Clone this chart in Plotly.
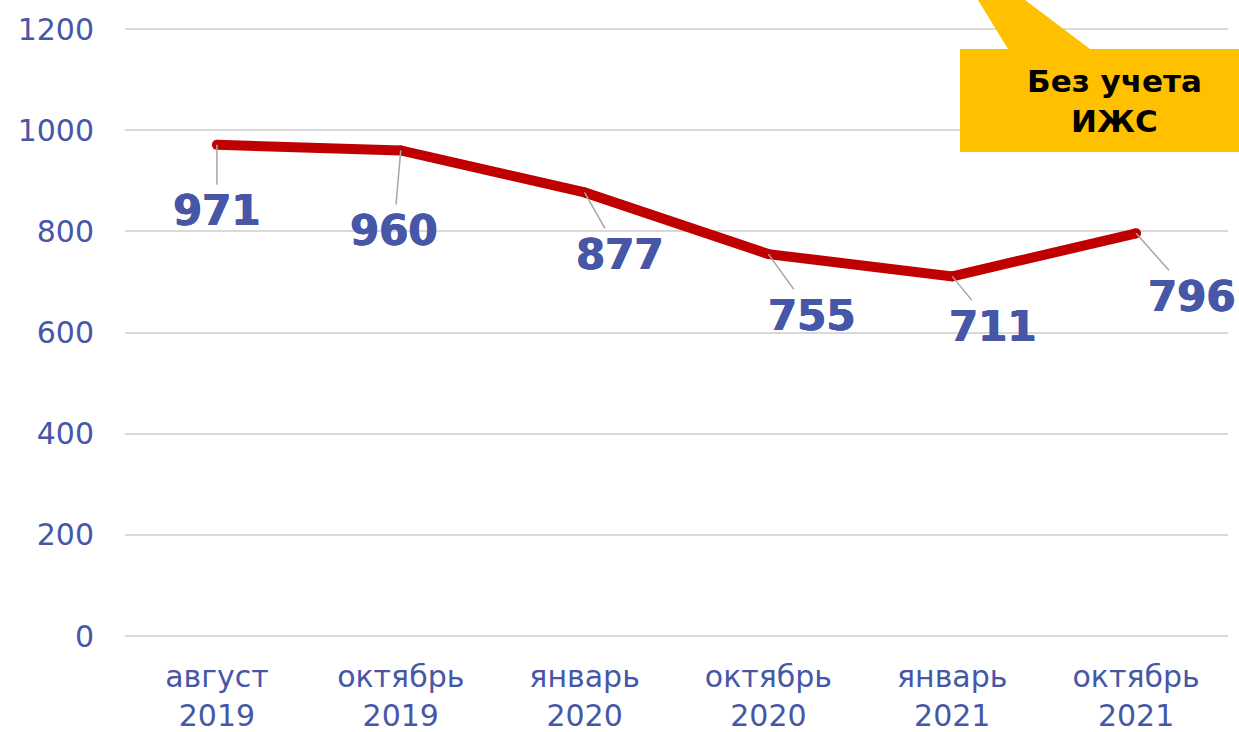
import plotly.graph_objects as go

categories = ["август<br>2019", "октябрь<br>2019", "январь<br>2020",
              "октябрь<br>2020", "январь<br>2021", "октябрь<br>2021"]
values = [971, 960, 877, 755, 711, 796]
y_ticks = [0, 200, 400, 600, 800, 1000, 1200]
callout_text = "Без учета<br>ИЖС"

# label offsets (pixels) for data labels with leader lines
label_dx = [0, -7, 35, 44, 41, 56]
label_dy = [66, 80, 62, 61, 50, 63]

TXT = "#4757A8"
FONT = "DejaVu Sans"

fig = go.Figure()
fig.add_trace(go.Scatter(
    x=list(range(len(categories))), y=values, mode="lines+markers",
    line=dict(color="#C00000", width=10),
    marker=dict(color="#C00000", size=10),
    hoverinfo="skip", showlegend=False,
))

for i, v in enumerate(values):
    fig.add_annotation(
        x=i, y=v, xref="x", yref="y", text=f"<b>{v}</b>",
        showarrow=True, arrowhead=0, arrowwidth=1.5, arrowcolor="#A6A6A6",
        ax=label_dx[i], ay=label_dy[i],
        font=dict(family=FONT, size=42, color=TXT,
                  shadow=f"0.6px 0 0 {TXT}, -0.6px 0 0 {TXT}"),
    )

# callout shape (yellow box with pointer), paper coordinates
W, H = 1239, 732
ml, mr, mt, mb = 125, 11, 28, 96
pw, ph = W - ml - mr, H - mt - mb
def px(x): return (x - ml) / pw
def py(y): return 1 - (y - mt) / ph

path = (f"M {px(1008)},{py(49)} L {px(960)},{py(49)} L {px(960)},{py(152)} "
        f"L {px(1260)},{py(152)} L {px(1260)},{py(49)} L {px(1090)},{py(49)} "
        f"L {px(1025)},{py(0)} L {px(978)},{py(0)} Z")
fig.add_shape(type="path", path=path, xref="paper", yref="paper",
              fillcolor="#FFC000", line=dict(width=0), layer="above")
fig.add_annotation(
    x=px(1114), y=py(101), xref="paper", yref="paper",
    text=f"<b>{callout_text}</b>", showarrow=False,
    font=dict(family=FONT, size=31, color="#000000"),
    xanchor="center", yanchor="middle",
)

fig.update_xaxes(
    tickmode="array", tickvals=list(range(len(categories))), ticktext=categories,
    range=[-0.5, len(categories) - 0.5], showgrid=False, zeroline=False,
    showline=False, tickfont=dict(family=FONT, size=30, color=TXT),
    ticks="", fixedrange=True, automargin=False, ticklabelstandoff=20,
)
fig.update_yaxes(
    tickmode="array", tickvals=y_ticks, range=[0, 1202],
    showgrid=True, gridcolor="#D9D9D9", gridwidth=2,
    zeroline=True, zerolinecolor="#D9D9D9", zerolinewidth=2,
    showline=False, tickfont=dict(family=FONT, size=30, color=TXT),
    ticks="", ticklabelstandoff=30, automargin=False,
)
fig.update_layout(
    width=W, height=H, margin=dict(l=ml, r=mr, t=mt, b=mb, autoexpand=False),
    plot_bgcolor="white", paper_bgcolor="white",
)
fig.write_html(
    "out.html",
    config={"displayModeBar": False},
    post_script="document.body.style.margin='0';document.body.style.overflow='hidden';",
)
